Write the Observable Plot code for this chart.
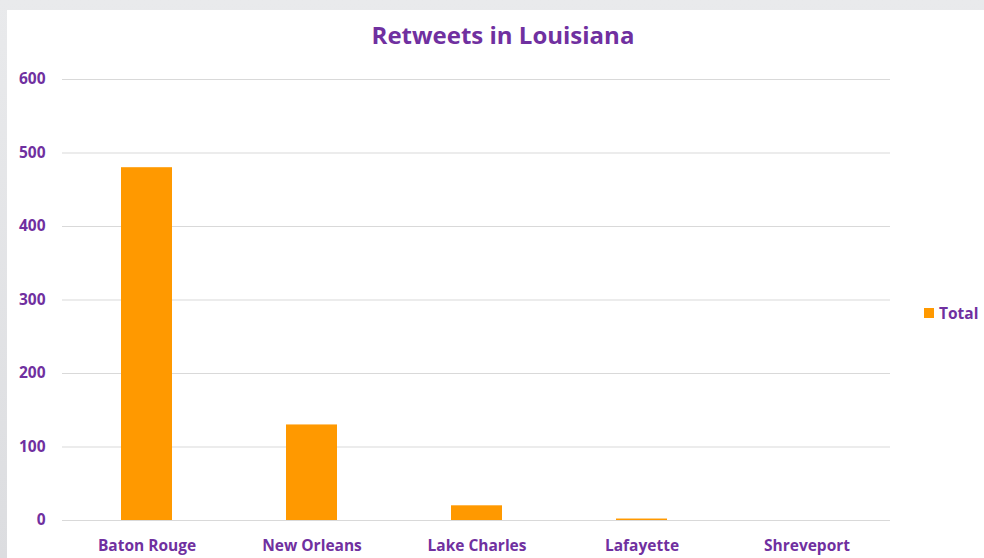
<!DOCTYPE html>
<html>
<head>
<meta charset="utf-8">
<script src="https://cdn.jsdelivr.net/npm/d3@7"></script>
<script src="https://cdn.jsdelivr.net/npm/@observablehq/plot@0.6"></script>
<style>
  html, body { margin: 0; padding: 0; }
  body { width: 984px; height: 558px; background: linear-gradient(#e9eaec, #dcdde0); position: relative; overflow: hidden; font-family: "Open Sans", Lato, sans-serif; }
  #panel { position: absolute; left: 7px; top: 10px; width: 977px; height: 548px; background: #fff; }
  #chart { position: absolute; left: 0; top: 0; }
  #title { position: absolute; left: 0; width: 1006px; top: 18px; line-height: 34px; text-align: center; font-size: 24px; font-weight: bold; color: #7030A0; }
  #legend { position: absolute; left: 924px; top: 302px; font-size: 15.5px; line-height: 22px; font-weight: bold; color: #7030A0; display: flex; align-items: center; }
  #legend span.sw { display: inline-block; width: 10px; height: 10px; background: #FF9900; margin-right: 5px; }
</style>
</head>
<body>
<div id="panel"></div>
<div id="chart"></div>
<div id="title">Retweets in Louisiana</div>
<div id="legend"><span class="sw"></span>Total</div>
<script>
const cities = ["Baton Rouge", "New Orleans", "Lake Charles", "Lafayette", "Shreveport"];
const totals = [480, 130, 20, 2, 0];
const yTicks = [0, 100, 200, 300, 400, 500, 600];

const data = cities.map((c, i) => ({city: c, total: totals[i]}));

const purple = "#7030A0";
const chart = Plot.plot({
  width: 984,
  height: 558,
  marginLeft: 62,
  marginRight: 94,
  marginTop: 79,
  marginBottom: 38,
  style: { background: "transparent", fontFamily: "'Open Sans', Lato, sans-serif", fontSize: "15.5px", fontWeight: "bold", color: purple },
  x: { domain: cities, padding: 0, label: null },
  y: { domain: [0, 600], ticks: yTicks, label: null },
  marks: [
    Plot.ruleY(yTicks, { stroke: "#d9d9d9", strokeWidth: 1 }),
    Plot.barY(data, { x: "city", y: "total", fill: "#FF9900", insetLeft: 57, insetRight: 57 }),
    Plot.axisY({ ticks: yTicks, tickSize: 0, tickPadding: 17, fill: purple, label: null }),
    Plot.axisX({ tickSize: 0, tickPadding: 19, fill: purple, label: null })
  ]
});
document.getElementById("chart").appendChild(chart);
</script>
</body>
</html>
